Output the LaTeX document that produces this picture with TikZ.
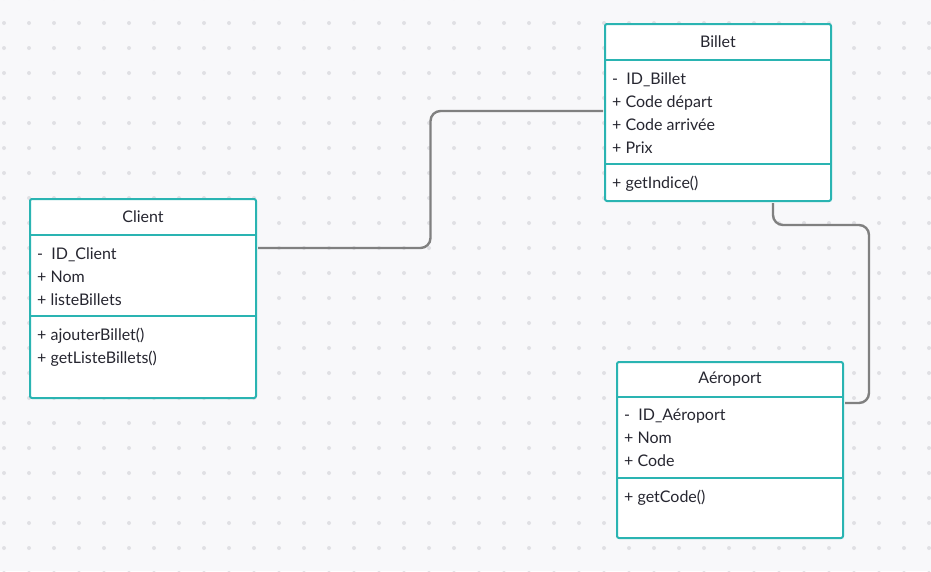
\documentclass[tikz,border=0pt]{standalone}
\usepackage{fontspec}
\setmainfont{Lato}
\usetikzlibrary{calc}

\definecolor{canvas}{RGB}{248,248,250}
\definecolor{griddot}{RGB}{224,224,228}
\definecolor{classteal}{RGB}{42,180,178}
\definecolor{linkgrey}{RGB}{128,128,128}
\definecolor{umltext}{RGB}{38,38,48}

\begin{document}
\begin{tikzpicture}[x=1pt, y=-1pt,
   classbox/.style={draw=classteal, line width=2pt, fill=white, rounded corners=2pt, anchor=north west, inner sep=0pt, minimum width=226pt},
   divider/.style={draw=classteal, line width=2pt},
   classtitle/.style={font=\fontsize{16}{23}\selectfont, text=umltext},
   members/.style={font=\fontsize{16}{23}\selectfont, text=umltext, align=left, anchor=base west, inner sep=0pt},
   link/.style={draw=linkgrey, line width=2.4pt, rounded corners=10pt, shorten <=1pt, shorten >=1pt}
]
\useasboundingbox (0,0) rectangle (931,571);
\fill[canvas] (0,0) rectangle (931,571);
\foreach \x in {4,29,...,929}
  \foreach \y in {-2,23,...,573}
    \fill[griddot] (\x,\y) circle (2pt);

% Classes
\node[classbox, minimum height=199pt] (client) at (29,198) {};
\node[classbox, minimum height=177pt] (billet) at (604,23) {};
\node[classbox, minimum height=176pt] (aeroport) at (616,361) {};

\draw[divider] ($(client.north west)+(0,37)$) -- ($(client.north east)+(0,37)$);
\draw[divider] ($(client.north west)+(0,118)$) -- ($(client.north east)+(0,118)$);
\draw[divider] ($(billet.north west)+(0,37)$) -- ($(billet.north east)+(0,37)$);
\draw[divider] ($(billet.north west)+(0,141)$) -- ($(billet.north east)+(0,141)$);
\draw[divider] ($(aeroport.north west)+(0,36)$) -- ($(aeroport.north east)+(0,36)$);
\draw[divider] ($(aeroport.north west)+(0,117)$) -- ($(aeroport.north east)+(0,117)$);

% (base of a block = baseline of its last line)
\node[classtitle] (client-title) at ($(client.north)+(0,19)$) {Client};
\node[members] (client-attr) at ($(client.north west)+(8,107)$) {-\ \ ID\_Client\\+ Nom\\+ listeBillets};
\node[members] (client-ops) at ($(client.north west)+(8,165)$) {+ ajouterBillet()\\+ getListeBillets()};

\node[classtitle] (billet-title) at ($(billet.north)+(0,19)$) {Billet};
\node[members] (billet-attr) at ($(billet.north west)+(8,130)$) {-\ \ ID\_Billet\\+ Code départ\\+ Code arrivée\\+ Prix};
\node[members] (billet-ops) at ($(billet.north west)+(8,165)$) {+ getIndice()};

\node[classtitle] (aeroport-title) at ($(aeroport.north)+(0,18)$) {Aéroport};
\node[members] (aeroport-attr) at ($(aeroport.north west)+(8,105)$) {-\ \ ID\_Aéroport\\+ Nom\\+ Code};
\node[members] (aeroport-ops) at ($(aeroport.north west)+(8,141)$) {+ getCode()};

% Associations
\coordinate (client-port) at ($(client.north east)+(0,50)$);
\coordinate (billet-in) at ($(billet.north west)+(0,88)$);
\draw[link] (client-port) -| ($(client-port)!.5!(billet-in)$) |- (billet-in);

\coordinate (billet-out) at ($(billet.south west)+(169,0)$);
\coordinate (aeroport-in) at ($(aeroport.north east)+(0,42)$);
\draw[link] (billet-out) -- ++(0,23) -| ($(aeroport-in)+(25,0)$) -- (aeroport-in);

\end{tikzpicture}
\end{document}
